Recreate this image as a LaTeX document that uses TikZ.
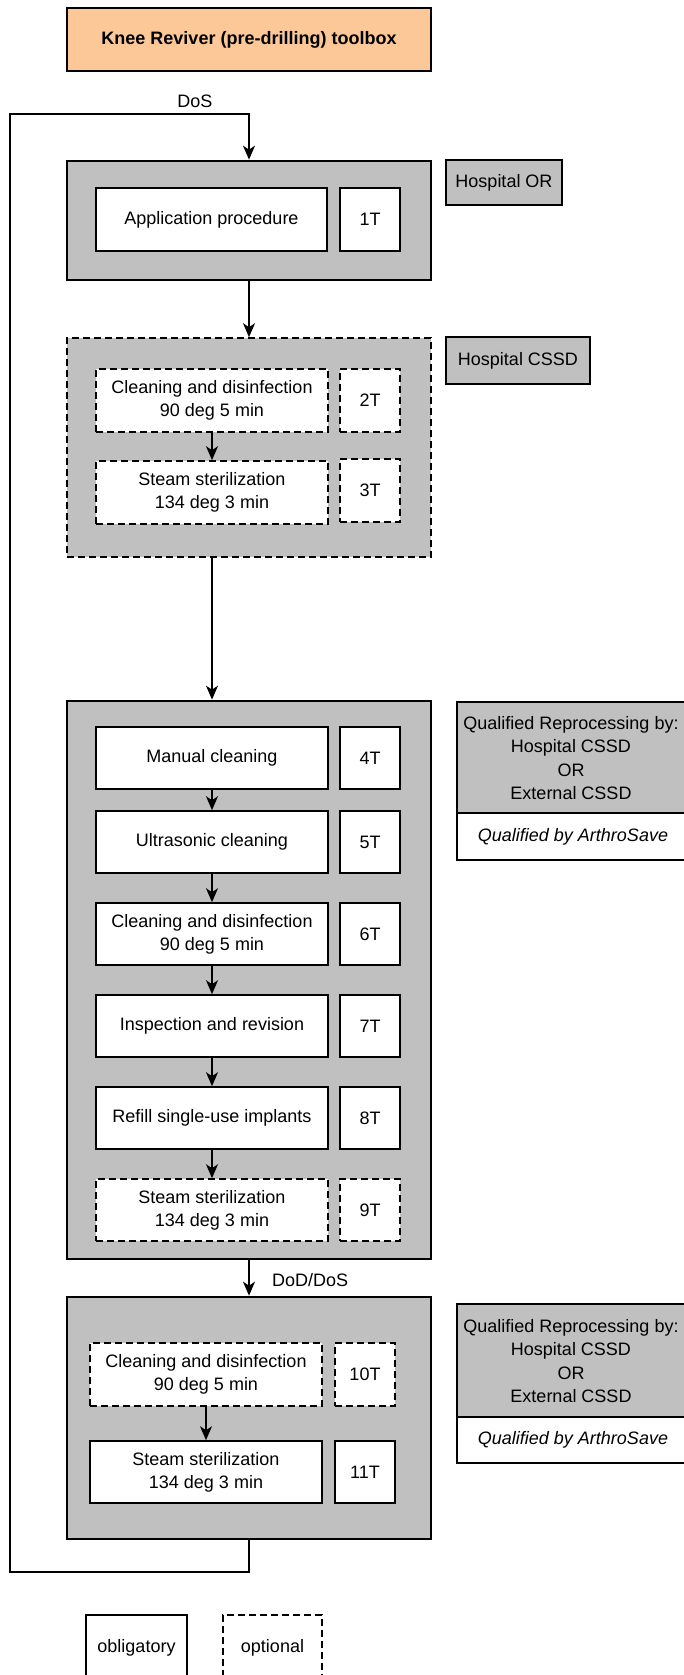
\documentclass[tikz,border=0pt]{standalone}
\usepackage{fontspec}
\setmainfont{Liberation Sans}
\usetikzlibrary{arrows.meta}
\definecolor{boxgray}{RGB}{192,192,192}
\definecolor{peach}{RGB}{252,200,152}
\begin{document}
\begin{tikzpicture}[x=1pt,y=-1pt,
  every node/.style={font=\fontsize{18}{23.3}\selectfont, inner sep=0pt, align=center},
  grp/.style={draw, fill=boxgray, line width=2.7pt},
  grpd/.style={draw, fill=boxgray, line width=1.6pt, dash pattern=on 7pt off 4pt},
  stepw/.style={draw, fill=white, line width=1.6pt},
  stepd/.style={stepw, dash pattern=on 7pt off 4pt},
  tagbox/.style={draw, fill=boxgray, line width=2.7pt},
  legw/.style={draw, fill=white, line width=1.3pt},
  arr/.style={line width=1.4pt, -{Stealth[length=14pt,width=12pt,inset=4pt]}},
  conn/.style={line width=1.4pt}
]
\clip (0,0) rectangle (684,1675);
\fill[white] (0,0) rectangle (684,1675);

% title
\node[draw, fill=peach, line width=2.7pt, minimum width=364pt, minimum height=63pt,
      font=\bfseries\fontsize{18}{23}\selectfont] (title) at (249,39.5) {Knee Reviver (pre-drilling) toolbox};

% group boxes
\node[grp,  minimum width=364pt, minimum height=119pt] (b1) at (249,220.5) {};
\node[grpd, minimum width=364pt, minimum height=219pt] (b2) at (249,447.5) {};
\node[grp,  minimum width=364pt, minimum height=558pt] (b3) at (249,980) {};
\node[grp,  minimum width=364pt, minimum height=242pt] (b4) at (249,1418) {};

% box 1
\node[stepw, minimum width=231pt, minimum height=63pt] (ap) at (211.5,219.5) {Application procedure};
\node[stepw, minimum width=60pt, minimum height=63pt] (t1) at (370,219.5) {1T};

% box 2
\node[stepd, minimum width=232pt, minimum height=63pt] (c2) at (212,400.5) {Cleaning and disinfection\\90 deg 5 min};
\node[stepd, minimum width=60pt, minimum height=63pt] (t2) at (370,400.5) {2T};
\node[stepd, minimum width=232pt, minimum height=63pt] (s3) at (212,492.5) {Steam sterilization\\134 deg 3 min};
\node[stepd, minimum width=60pt, minimum height=63pt] (t3) at (370,490.5) {3T};

% box 3
\node[stepw, minimum width=232pt, minimum height=62pt] (m4) at (212,758) {Manual cleaning};
\node[stepw, minimum width=60pt, minimum height=62pt] (t4) at (370,758) {4T};
\node[stepw, minimum width=232pt, minimum height=62pt] (u5) at (212,842) {Ultrasonic cleaning};
\node[stepw, minimum width=60pt, minimum height=62pt] (t5) at (370,842) {5T};
\node[stepw, minimum width=232pt, minimum height=62pt] (c6) at (212,934) {Cleaning and disinfection\\90 deg 5 min};
\node[stepw, minimum width=60pt, minimum height=62pt] (t6) at (370,934) {6T};
\node[stepw, minimum width=232pt, minimum height=62pt] (i7) at (212,1026) {Inspection and revision};
\node[stepw, minimum width=60pt, minimum height=62pt] (t7) at (370,1026) {7T};
\node[stepw, minimum width=232pt, minimum height=62pt] (r8) at (212,1118) {Refill single-use implants};
\node[stepw, minimum width=60pt, minimum height=62pt] (t8) at (370,1118) {8T};
\node[stepd, minimum width=232pt, minimum height=62pt] (s9) at (212,1210) {Steam sterilization\\134 deg 3 min};
\node[stepd, minimum width=60pt, minimum height=62pt] (t9) at (370,1210) {9T};

% box 4
\node[stepd, minimum width=232pt, minimum height=63pt] (c10) at (206,1374.5) {Cleaning and disinfection\\90 deg 5 min};
\node[stepd, minimum width=60pt, minimum height=63pt] (t10) at (365,1374.5) {10T};
\node[stepw, minimum width=232pt, minimum height=62pt] (s11) at (206,1472) {Steam sterilization\\134 deg 3 min};
\node[stepw, minimum width=60pt, minimum height=62pt] (t11) at (365,1472) {11T};

% side labels
\node[tagbox, minimum width=116pt, minimum height=45pt] (hor) at (504,182.5) {Hospital OR};
\node[tagbox, minimum width=144pt, minimum height=47pt] (hcssd) at (518,360.5) {Hospital CSSD};

\node[tagbox, minimum width=240pt, minimum height=111pt] (q1) at (577,757.5) {};
\node (q1t) at (571,758) {Qualified Reprocessing by:\\Hospital CSSD\\OR\\External CSSD};
\node[draw, fill=white, line width=2.7pt, minimum width=240pt, minimum height=47pt] (q1b) at (577,836.5) {};
\node[font=\itshape\fontsize{18}{23}\selectfont] (q1bt) at (573,837) {Qualified by ArthroSave};

\node[tagbox, minimum width=240pt, minimum height=113pt] (q2) at (577,1360.5) {};
\node (q2t) at (571,1361) {Qualified Reprocessing by:\\Hospital CSSD\\OR\\External CSSD};
\node[draw, fill=white, line width=2.7pt, minimum width=240pt, minimum height=46pt] (q2b) at (577,1440) {};
\node[font=\itshape\fontsize{18}{23}\selectfont] (q2bt) at (573,1440) {Qualified by ArthroSave};

% legend
\node[legw, minimum width=101pt, minimum height=66pt] (lo) at (136.5,1648) {obligatory};
\node[legw, dash pattern=on 7pt off 4pt, minimum width=99pt, minimum height=66pt] (lp) at (272.5,1648) {optional};

% connectors
\draw[arr] (b1.south) -- (b2.north);
\draw[arr] (b2.south -| c2.south) -- (b3.north -| c2.north);
\draw[arr] (b3.south) -- (b4.north);
\node[anchor=west] (dod) at (272,1280) {DoD/DoS};

\draw[arr] (c2.south) -- (s3.north);
\draw[arr] (m4.south) -- (u5.north);
\draw[arr] (u5.south) -- (c6.north);
\draw[arr] (c6.south) -- (i7.north);
\draw[arr] (i7.south) -- (r8.north);
\draw[arr] (r8.south) -- (s9.north);
\draw[arr] (c10.south) -- (s11.north);

\coordinate (lb) at (10,1572);
\coordinate (lt) at (10,114);
\draw[arr] (b4.south) |- (lb) -- (lt) -| (b1.north);
\node (dos) at (195,101) {DoS};
\end{tikzpicture}
\end{document}
